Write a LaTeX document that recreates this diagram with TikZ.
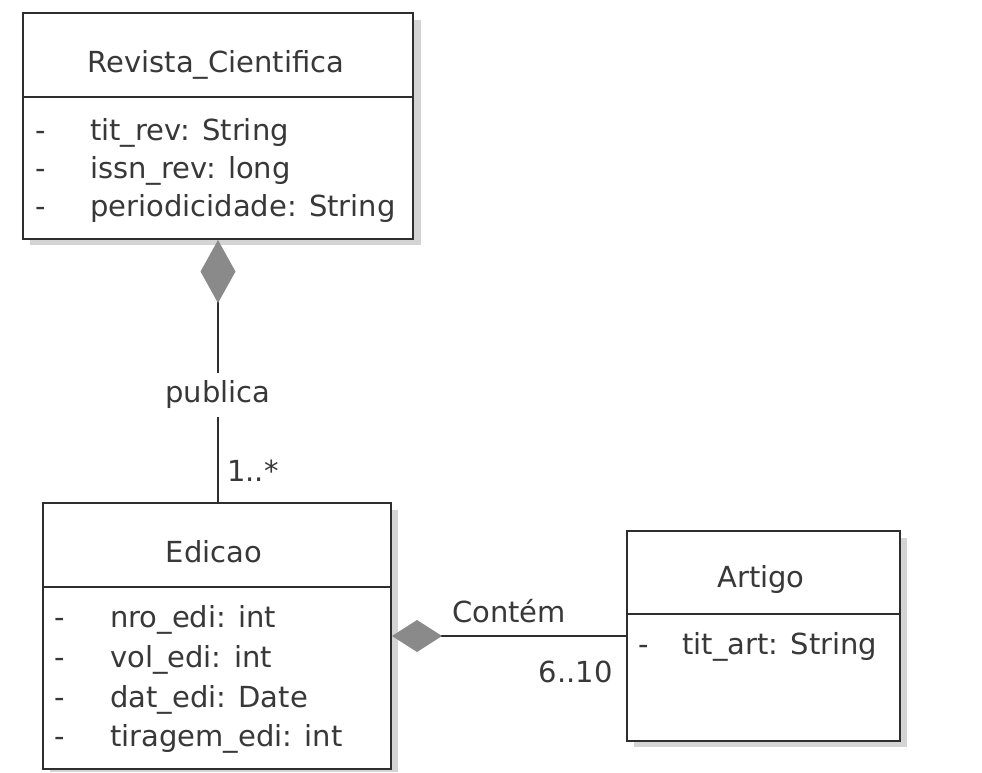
\documentclass[tikz,border=0pt]{standalone}
\usepackage{fontspec}
\setmainfont{DejaVu Sans}
\usetikzlibrary{arrows.meta}
\definecolor{ink}{HTML}{2E2E2E}
\definecolor{diagray}{HTML}{8A8A8A}
\definecolor{shadowgray}{HTML}{D4D4D4}
\definecolor{txt}{HTML}{383838}

\begin{document}
\begin{tikzpicture}[x=1pt,y=-1pt,
  umlbox/.style={draw=ink, line width=2pt, fill=white, inner sep=0pt},
  sepline/.style={draw=ink, line width=1.8pt},
  lbl/.style={text=txt, font=\fontsize{29}{35}\selectfont, inner sep=0pt},
  attr/.style={lbl, anchor=base west},
  ttl/.style={lbl, anchor=base},
  assoc/.style={draw=ink, line width=2.6pt},
  boxshadow/.style={fill=shadowgray},
]
\useasboundingbox (0,0) rectangle (982,772);

% drop shadows
\path[boxshadow] (30,20) rectangle (421,245);
\path[boxshadow] (50,510) rectangle (398,772);
\path[boxshadow] (634,538) rectangle (907,747);

% class Revista_Cientifica
\node[umlbox, minimum width=390pt, minimum height=226pt] (rev) at (218,126) {};
\draw[sepline] (rev.west |- 0,97) -- (rev.east |- 0,97);
\node[ttl] (revt) at (216,72) {Revista\_Cientifica};
\node[attr] (revd1) at (35,140) {-};
\node[attr] (revd2) at (35,178) {-};
\node[attr] (revd3) at (35,216) {-};
\node[attr] (reva1) at (90,140) {tit\_rev: String};
\node[attr] (reva2) at (90,178) {issn\_rev: long};
\node[attr] (reva3) at (90,216) {periodicidade: String};

% class Edicao
\node[umlbox, minimum width=348pt, minimum height=266pt] (edi) at (217,636) {};
\draw[sepline] (edi.west |- 0,587) -- (edi.east |- 0,587);
\node[ttl] (edit) at (214,562) {Edicao};
\node[attr] (edid1) at (54,627) {-};
\node[attr] (edid2) at (54,667) {-};
\node[attr] (edid3) at (54,707) {-};
\node[attr] (edid4) at (54,746) {-};
\node[attr] (edia1) at (110,627) {nro\_edi: int};
\node[attr] (edia2) at (110,667) {vol\_edi: int};
\node[attr] (edia3) at (110,707) {dat\_edi: Date};
\node[attr] (edia4) at (110,746) {tiragem\_edi: int};

% class Artigo
\node[umlbox, minimum width=273pt, minimum height=210pt] (art) at (763.5,636) {};
\draw[sepline] (art.west |- 0,614) -- (art.east |- 0,614);
\node[ttl] (artt) at (761,587) {Artigo};
\node[attr] (artd1) at (638,654) {-};
\node[attr] (arta1) at (682,654) {tit\_art: String};

% composition: Revista_Cientifica publica Edicao
\draw[assoc, {Diamond[length=63pt, width=35pt, color=diagray, fill=diagray, line width=0pt]}-]
  (rev.south) -- (rev.south |- edi.north)
  node[lbl, pos=0.59, fill=white, inner xsep=2pt, inner ysep=8pt] (pub) {publica}
  node[lbl, pos=0.88, anchor=west, xshift=8pt] (mult1) {1..*};

% composition: Edicao Contém Artigo
\draw[assoc, {Diamond[length=50pt, width=32pt, color=diagray, fill=diagray, line width=0pt]}-]
  (edi.east) -- (edi.east -| art.west)
  node[lbl, midway, above=12pt] (cont) {Contém}
  node[lbl, pos=1, anchor=north east, xshift=-12pt, yshift=-24pt] (mult2) {6..10};
\end{tikzpicture}
\end{document}
